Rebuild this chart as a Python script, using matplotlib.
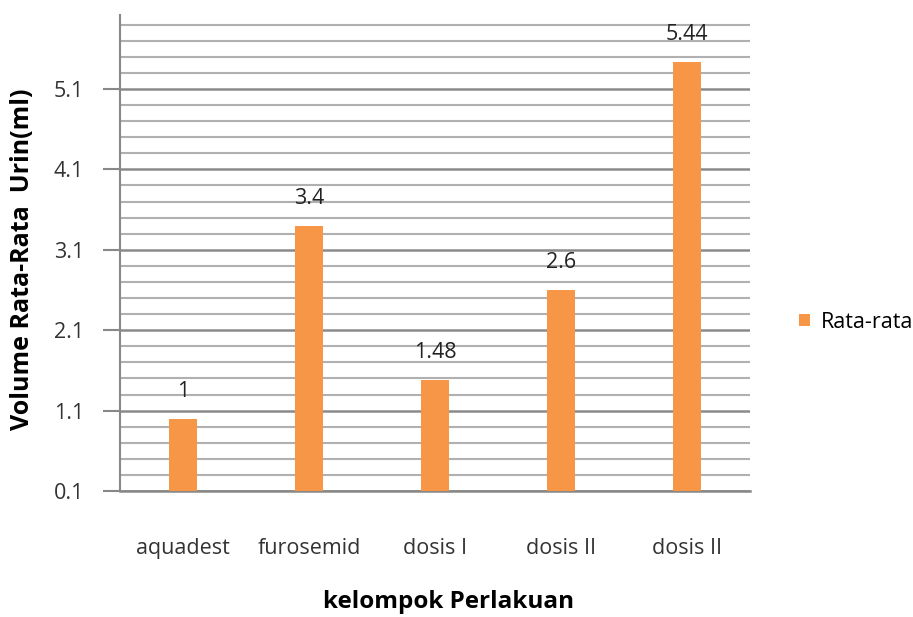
import numpy as np
import matplotlib
matplotlib.use("Agg")
import matplotlib.pyplot as plt

categories = ["aquadest", "furosemid", "dosis I", "dosis II", "dosis II"]
values = [1, 3.4, 1.48, 2.6, 5.44]
value_labels = ["1", "3.4", "1.48", "2.6", "5.44"]
yticks = [0.1, 1.1, 2.1, 3.1, 4.1, 5.1]
ytick_labels = ["0.1", "1.1", "2.1", "3.1", "4.1", "5.1"]
minor_ticks = [round(0.1 + 0.2 * k, 1) for k in range(1, 30) if k % 5 != 0]

plt.rcParams['font.family'] = ['Open Sans', 'DejaVu Sans']

fig = plt.figure(figsize=(9.13, 6.17), dpi=100)
ax = fig.add_axes([120/913, 1-491/617, 630/913, (491-15)/617])

x = np.arange(len(categories))
bars = ax.bar(x, values, width=0.22, color="#F79646", zorder=3, label="Rata-rata")
for xi, v, lab in zip(x, values, value_labels):
    ax.annotate(lab, (xi, v), xytext=(0, 12), textcoords="offset points",
                ha="center", va="bottom", fontsize=15.5, color="#222222")

ax.set_xlim(-0.5, len(categories) - 0.5)
ax.set_ylim(0.1, 6.02)
ax.set_yticks(yticks)
ax.set_yticklabels(ytick_labels, fontsize=15.5, color="#333333")
ax.set_yticks(minor_ticks, minor=True)
ax.tick_params(axis="y", which="minor", length=0)
ax.tick_params(axis="y", which="major", length=12, width=1.5, color="#888888", pad=14)
ax.set_xticks(x)
ax.set_xticklabels(categories, fontsize=15.5, color="#333333")
ax.tick_params(axis="x", length=0, pad=34)

ax.grid(axis="y", which="major", color="#8a8a8a", linewidth=1.8, zorder=0)
ax.grid(axis="y", which="minor", color="#b0b0b0", linewidth=1.5, zorder=0)
for s in ["top", "right"]:
    ax.spines[s].set_visible(False)
ax.spines["left"].set_color("#888888")
ax.spines["left"].set_linewidth(1.5)
ax.spines["bottom"].set_color("#888888")
ax.spines["bottom"].set_linewidth(1.8)

ax.set_ylabel("Volume Rata-Rata  Urin(ml)", fontsize=18, fontweight="bold")
ax.set_xlabel("kelompok Perlakuan", fontsize=17.5, fontweight="bold")
ax.yaxis.set_label_coords(-85/630, (491-259)/476)
ax.xaxis.set_label_coords((449-120)/630, (491-590)/476)

leg = fig.legend(handles=[bars], labels=["Rata-rata"], loc="center left",
                 bbox_to_anchor=(780/913, 1-322/617), frameon=False, fontsize=15.5,
                 handlelength=0.5, handleheight=0.5, handletextpad=0.5)

fig.savefig("out.png", dpi=100)
